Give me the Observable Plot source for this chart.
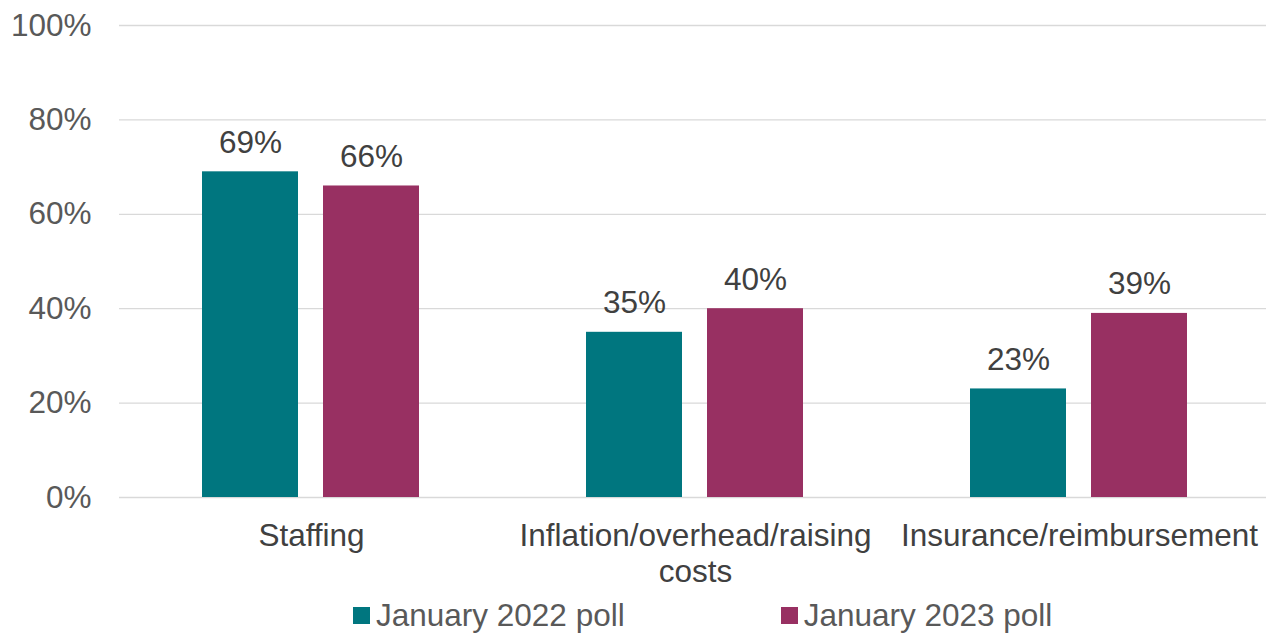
<!DOCTYPE html>
<html>
<head>
<meta charset="utf-8">
<script src="https://cdn.jsdelivr.net/npm/d3@7"></script>
<script src="https://cdn.jsdelivr.net/npm/@observablehq/plot@0.6"></script>
<style>
  body { margin: 0; background: #fff; font-family: "Liberation Sans", Arial, sans-serif; overflow: hidden; }
  #legend { display: flex; justify-content: flex-start; padding-left: 353px; height: 38px; align-items: center; font-size: 31.5px; color: #595959; margin-top: 1px; }
  .item { display: flex; align-items: center; }
  .item + .item { margin-left: 156px; }
  .sw { width: 17px; height: 17px; margin-right: 6px; }
  #chart svg { overflow: hidden; }
</style>
</head>
<body>
<div id="chart"></div>
<div id="legend"></div>
<script>
const categories = ["Staffing", "Inflation/overhead/raising costs", "Insurance/reimbursement"];
const categoryLabels = ["Staffing", "Inflation/overhead/raising\ncosts", "Insurance/reimbursement"];
const series = ["January 2022 poll", "January 2023 poll"];
const colors = ["#00767F", "#983062"];
const values2022 = [69, 35, 23];
const values2023 = [66, 40, 39];
const yTicks = [0, 20, 40, 60, 80, 100];

const data = [];
categories.forEach((c, i) => {
  data.push({category: c, series: series[0], value: values2022[i]});
  data.push({category: c, series: series[1], value: values2023[i]});
});
const labelOf = new Map(categories.map((c, i) => [c, categoryLabels[i]]));

const chart = Plot.plot({
  width: 1266,
  height: 595,
  marginTop: 25,
  marginBottom: 98,
  marginLeft: 118,
  marginRight: -5,
  style: {fontFamily: "'Liberation Sans', Arial, sans-serif", fontSize: "31.5px", color: "#595959", background: "#fff"},
  fx: {domain: categories, padding: 0, label: null},
  x: {domain: series, paddingInner: 0.2066, paddingOuter: 0.69, axis: null},
  y: {domain: [0, 100], label: null},
  color: {domain: series, range: colors},
  marks: [
    Plot.ruleY(yTicks, {stroke: "#d9d9d9", strokeWidth: 1.3}),
    Plot.axisY({ticks: yTicks, tickSize: 0, tickPadding: 28, tickFormat: d => d + "%", label: null, fill: "#595959", fontSize: 31.5}),
    Plot.axisFx({anchor: "bottom", tickSize: 0, tickPadding: 23, tickFormat: d => labelOf.get(d), label: null, fill: "#404040", fontSize: 31.5, lineHeight: 1.15, lineAnchor: "top"}),
    Plot.barY(data, {fx: "category", x: "series", y: "value", fill: "series"}),
    Plot.text(data, {fx: "category", x: "series", y: "value", text: d => d.value + "%", lineAnchor: "bottom", dy: -19, fill: "#404040", fontSize: 31.5})
  ]
});
document.getElementById("chart").appendChild(chart);

const legend = document.getElementById("legend");
series.forEach((s, i) => {
  const item = document.createElement("div");
  item.className = "item";
  const sw = document.createElement("div");
  sw.className = "sw";
  sw.style.background = colors[i];
  const t = document.createElement("span");
  t.textContent = s;
  item.appendChild(sw);
  item.appendChild(t);
  legend.appendChild(item);
});
</script>
</body>
</html>
